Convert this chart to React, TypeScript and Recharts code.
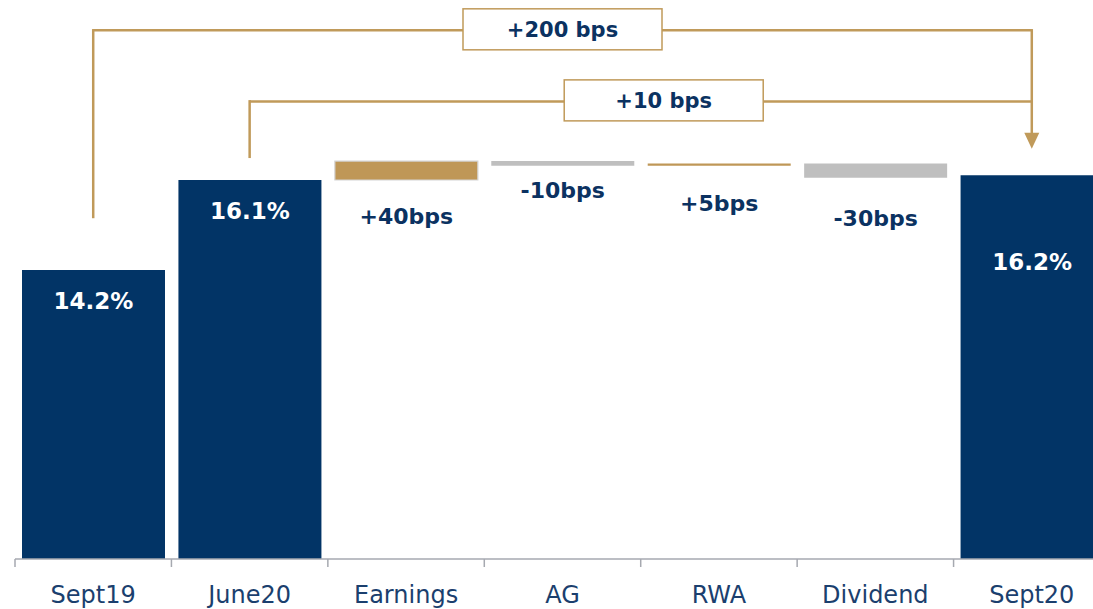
import React from 'react';
import { BarChart, Bar, XAxis, YAxis, Cell, LabelList, ReferenceLine } from 'recharts';

// ---- data ----
const categories = ['Sept19', 'June20', 'Earnings', 'AG', 'RWA', 'Dividend', 'Sept20'];
const totalValues: (number | null)[] = [14.2, 16.1, null, null, null, null, 16.2];
const changeBps: (number | null)[] = [null, null, 40, -10, 5, -30, null];

// comparison brackets (from -> to), anchor levels in % units
const bracketFrom = ['Sept19', 'June20'];
const bracketTo = ['Sept20', 'Sept20'];
const bracketStartLevel = [15.32, 16.59];
const bracketLevel = [19.26, 17.76];
const arrowTipLevel = 16.76;

// ---- layout / style ----
const Y_MIN = 8.1;
const Y_MAX = 19.9;
const labelBaseline = [39, 39, 44, 32, 45, 48, 95];
const bracketBoxShift = [0, 23];

const NAVY = '#023466';
const GOLD = '#BF9757';
const GREY = '#BFBFBF';
const LABEL_NAVY = '#0B3261';
const AXIS_TEXT = '#1B3F6E';
const AXIS_LINE = '#A6A9B0';
const LINE_GOLD = '#C09A5A';
const FONT = '"DejaVu Sans", sans-serif';

type Row = { name: string; range: [number, number]; kind: 'total' | 'up' | 'down'; label: string };

let running = 0;
const rows: Row[] = categories.map((name, i) => {
  const t = totalValues[i];
  if (t != null) {
    running = t;
    return { name, range: [Y_MIN, t], kind: 'total', label: `${t.toFixed(1)}%` };
  }
  const bps = changeBps[i] as number;
  const before = running;
  const after = before + bps / 100;
  running = after;
  return {
    name,
    range: [Math.min(before, after), Math.max(before, after)],
    kind: bps >= 0 ? 'up' : 'down',
    label: `${bps > 0 ? '+' : ''}${bps}bps`,
  };
});

const totalOf = (name: string) => totalValues[categories.indexOf(name)] as number;
const bracketText = bracketFrom.map((f, i) => {
  const d = Math.round((totalOf(bracketTo[i]) - totalOf(f)) * 100);
  return `${d >= 0 ? '+' : ''}${d} bps`;
});

const colorOf = (k: Row['kind']) => (k === 'total' ? NAVY : k === 'up' ? GOLD : GREY);

const AxisTick = (props: any) => {
  const { x, y, payload, index } = props;
  const half = payload && typeof payload.offset === 'number' && payload.offset > 0 ? payload.offset : 78;
  const idx = typeof index === 'number' ? index : categories.indexOf(payload.value);
  return (
    <g>
      <line x1={x - half} x2={x - half} y1={y - 8} y2={y} stroke={AXIS_LINE} strokeWidth={1.5} />
      {idx === categories.length - 1 && (
        <line x1={x + half} x2={x + half} y1={y - 8} y2={y} stroke={AXIS_LINE} strokeWidth={1.5} />
      )}
      <text x={x} y={y + 36} textAnchor="middle" fontFamily={FONT} fontSize={24} fill={AXIS_TEXT}>
        {payload.value}
      </text>
    </g>
  );
};

const BarLabel = (props: any) => {
  const { x, y, width, height, index, value } = props;
  const row = rows[index];
  if (!row) return null;
  const top = height >= 0 ? y : y + height;
  const bottom = top + Math.abs(height);
  const cx = x + width / 2;
  if (row.kind === 'total') {
    return (
      <text x={cx} y={top + labelBaseline[index]} textAnchor="middle" fontFamily={FONT} fontWeight="bold" fontSize={23} fill="#FFFFFF">
        {value}
      </text>
    );
  }
  return (
    <text x={cx} y={bottom + labelBaseline[index]} textAnchor="middle" fontFamily={FONT} fontWeight="bold" fontSize={22} fill={LABEL_NAVY}>
      {value}
    </text>
  );
};

const BracketBox = (props: any) => {
  const { viewBox, boxText, boxShift } = props;
  if (!viewBox) return null;
  let vx = viewBox.x, vy = viewBox.y, vw = viewBox.width;
  if (typeof vx !== 'number' && typeof viewBox.x1 === 'number') {
    vx = Math.min(viewBox.x1, viewBox.x2);
    vw = Math.abs(viewBox.x2 - viewBox.x1);
    vy = viewBox.y1;
  }
  const cx = vx + vw / 2 + (boxShift || 0);
  const cy = vy - 1;
  return (
    <g>
      <rect x={cx - 99.5} y={cy - 20.5} width={199} height={41} fill="#FFFFFF" stroke={LINE_GOLD} strokeWidth={1.5} />
      <text x={cx} y={cy + 8} textAnchor="middle" fontFamily={FONT} fontWeight="bold" fontSize={21} fill={LABEL_NAVY}>
        {boxText}
      </text>
    </g>
  );
};

const ArrowLine = (p: any) => {
  const { x1, y1, y2 } = p;
  const top = Math.min(y1, y2);
  const tip = Math.max(y1, y2);
  return (
    <g>
      <line x1={x1} x2={x1} y1={top - 1.25} y2={tip - 14} stroke={LINE_GOLD} strokeWidth={2.5} />
      <path d={`M${x1 - 7.5},${tip - 16} L${x1 + 7.5},${tip - 16} L${x1},${tip} Z`} fill={LINE_GOLD} />
    </g>
  );
};

export default function App() {
  return (
    <div
      style={{
        position: 'absolute',
        left: 0,
        top: 0,
        width: 1093,
        height: 609,
        overflow: 'hidden',
        background: '#FFFFFF',
      }}
    >
      <BarChart
        width={1110}
        height={609}
        data={rows}
        margin={{ top: 0, right: 0, bottom: 0, left: 15 }}
        barSize={143}
      >
        <XAxis
          dataKey="name"
          interval={0}
          height={50}
          tickLine={false}
          tickSize={8}
          tickMargin={0}
          axisLine={{ stroke: AXIS_LINE, strokeWidth: 1.5 }}
          tick={AxisTick}
        />
        <YAxis hide type="number" domain={[Y_MIN, Y_MAX]} allowDataOverflow />
        <Bar dataKey="range" isAnimationActive={false}>
          {rows.map((r) => (
            <Cell
              key={r.name}
              fill={colorOf(r.kind)}
              stroke={r.name === 'Earnings' ? '#D4D4D4' : 'none'}
              strokeWidth={r.name === 'Earnings' ? 1.2 : 0}
            />
          ))}
          <LabelList dataKey="label" content={BarLabel} />
        </Bar>
        {bracketFrom.map((f, i) => (
          <ReferenceLine
            key={`v-${f}`}
            segment={[{ x: f, y: bracketStartLevel[i] }, { x: f, y: bracketLevel[i] }]}
            stroke={LINE_GOLD}
            strokeWidth={2.5}
            strokeLinecap="square"
          />
        ))}
        <ReferenceLine
          segment={[{ x: bracketTo[0], y: bracketLevel[0] }, { x: bracketTo[0], y: arrowTipLevel }]}
          stroke={LINE_GOLD}
          strokeWidth={2.5}
          shape={ArrowLine}
        />
        {bracketFrom.map((f, i) => (
          <ReferenceLine
            key={`h-${f}`}
            segment={[{ x: f, y: bracketLevel[i] }, { x: bracketTo[i], y: bracketLevel[i] }]}
            stroke={LINE_GOLD}
            strokeWidth={2.5}
            label={<BracketBox boxText={bracketText[i]} boxShift={bracketBoxShift[i]} />}
          />
        ))}
      </BarChart>
    </div>
  );
}
